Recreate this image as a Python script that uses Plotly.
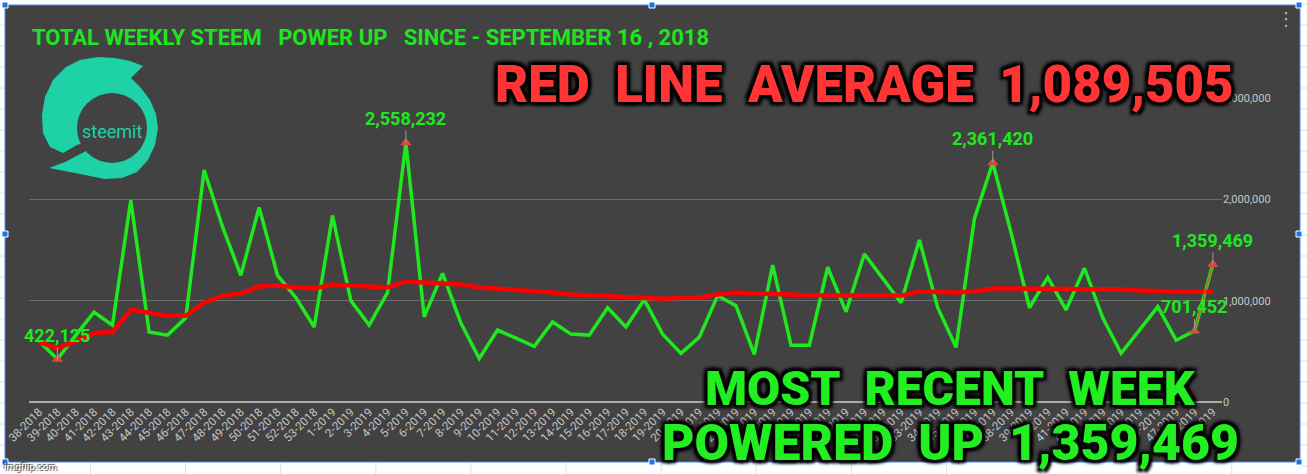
import plotly.graph_objects as go

# ---------------- data ----------------
weeks = ["38-2018", "39-2018", "40-2018", "41-2018", "42-2018", "43-2018", "44-2018", "45-2018",
         "46-2018", "47-2018", "48-2018", "49-2018", "50-2018", "51-2018", "52-2018", "53-2018",
         "1-2019", "2-2019", "3-2019", "4-2019", "5-2019", "6-2019", "7-2019", "8-2019", "9-2019",
         "10-2019", "11-2019", "12-2019", "13-2019", "14-2019", "15-2019", "16-2019", "17-2019",
         "18-2019", "19-2019", "20-2019", "21-2019", "22-2019", "23-2019", "24-2019", "25-2019",
         "26-2019", "27-2019", "28-2019", "29-2019", "30-2019", "31-2019", "32-2019", "33-2019",
         "34-2019", "35-2019", "36-2019", "37-2019", "38-2019", "39-2019", "40-2019", "41-2019",
         "42-2019", "43-2019", "44-2019", "45-2019", "46-2019", "47-2019", "48-2019", "49-2019"]

power_up = [600000, 422125, 660000, 886000, 758000, 1990000, 690000, 660000, 830000, 2290000,
            1730000, 1250000, 1920000, 1250000, 1030000, 740000, 1840000, 1000000, 760000, 1080000,
            2558232, 840000, 1270000, 780000, 430000, 710000, 630000, 550000, 790000, 670000,
            660000, 930000, 740000, 1010000, 670000, 480000, 640000, 1050000, 950000, 470000,
            1350000, 560000, 560000, 1330000, 890000, 1460000, 1220000, 980000, 1600000, 930000,
            540000, 1810000, 2361420, 1670000, 930000, 1230000, 910000, 1320000, 830000, 480000,
            710000, 940000, 610000, 701452, 1359469]

average_line = [590000, 530000, 600000, 680000, 690000, 910000, 880000, 850000, 850000, 980000,
                1050000, 1070000, 1140000, 1150000, 1130000, 1120000, 1160000, 1150000, 1130000, 1130000,
                1190000, 1180000, 1180000, 1160000, 1130000, 1120000, 1110000, 1090000, 1080000, 1060000,
                1050000, 1040000, 1030000, 1030000, 1020000, 1030000, 1030000, 1060000, 1080000, 1070000,
                1070000, 1060000, 1050000, 1050000, 1050000, 1060000, 1060000, 1050000, 1090000, 1080000,
                1080000, 1090000, 1120000, 1120000, 1120000, 1120000, 1120000, 1120000, 1110000, 1110000,
                1100000, 1090000, 1090000, 1090000, 1089505]

labeled_idx = [1, 20, 52, 63, 64]
y_ticks = [0, 1000000, 2000000, 3000000]

title_text = "TOTAL WEEKLY STEEM   POWER UP   SINCE - SEPTEMBER 16 , 2018"
avg_text = "RED  LINE  AVERAGE  1,089,505"
recent_text_1 = "MOST  RECENT  WEEK"
recent_text_2 = "POWERED  UP  1,359,469"

# ---------------- layout geometry ----------------
W, H = 1307, 474
L, R, T, B = 29, 85, 98, 72
PW, PH = W - L - R, H - T - B

def px(x):
    return (x - L) / PW

def py(y):
    return (H - B - y) / PH

def nb(s):
    return s.replace(" ", "\u00a0")

GREEN = "#1fe81f"
RED = "#ff0000"
TEAL = "#1fd1a7"
BG = "#424242"

fig = go.Figure()

fig.add_trace(go.Scatter(x=weeks, y=power_up, mode="lines",
                         line=dict(color=GREEN, width=3.5), hoverinfo="skip"))
fig.add_trace(go.Scatter(x=weeks, y=average_line, mode="lines",
                         line=dict(color=RED, width=4.5), hoverinfo="skip"))
fig.add_trace(go.Scatter(x=weeks[-2:], y=power_up[-2:], mode="lines",
                         line=dict(color="#d0562e", width=1.5), hoverinfo="skip"))
fig.add_trace(go.Scatter(x=[weeks[i] for i in labeled_idx], y=[power_up[i] for i in labeled_idx],
                         mode="markers",
                         marker=dict(symbol="triangle-up", size=10, color="#d9483b"),
                         hoverinfo="skip"))

annotations = []
for i in labeled_idx:
    annotations.append(dict(x=weeks[i], y=power_up[i], xref="x", yref="y",
                            text=f"{power_up[i]:,}", showarrow=True, arrowhead=0,
                            arrowwidth=1, arrowcolor="#9a9a9a", ax=0, ay=-24,
                            font=dict(family="Roboto", size=18, color=GREEN, weight="bold")))


def paper_text(x, y, text, font, xanchor="center"):
    annotations.append(dict(x=px(x), y=py(y), xref="paper", yref="paper", showarrow=False,
                            xanchor=xanchor, yanchor="middle", text=text, font=font))


paper_text(30, 38, nb(title_text),
           dict(family="Roboto", size=22, color="#1ee61e", weight="bold"), xanchor="left")
paper_text(112, 131, "steemit", dict(family="Roboto", size=18, color=TEAL))
paper_text(1286, 19, "\u22ee", dict(family="DejaVu Sans", size=18, color="#b8b8b8"))
paper_text(2, 467, "imgflip.com",
           dict(family="DejaVu Sans", size=9, color="#ffffff",
                shadow="1px 1px 1px #333, -1px -1px 1px #333"), xanchor="left")

shadow = ("3px 3px 3px #000, -3px -3px 3px #000, 3px -3px 3px #000, -3px 3px 3px #000, "
          "0 0 6px #000")
meme_font = "Roboto, Liberation Sans, sans-serif"
paper_text(864, 84, nb(avg_text),
           dict(family=meme_font, size=51, color="#ff3535", weight=900, shadow=shadow))
paper_text(950, 388, nb(recent_text_1),
           dict(family=meme_font, size=48, color="#22ee22", weight=900, shadow=shadow))
paper_text(950, 443, nb(recent_text_2),
           dict(family=meme_font, size=50, color="#22ee22", weight=900, shadow=shadow))

shapes = []
# dark chart background
shapes.append(dict(type="rect", xref="paper", yref="paper", layer="below",
                   x0=px(5), x1=px(1300), y0=py(462), y1=py(5),
                   fillcolor=BG, line=dict(color="#4a86e8", width=1)))
# spreadsheet cell lines outside the chart
for k in range(14):
    gx = 90.5 + 95.1 * k
    shapes.append(dict(type="line", xref="paper", yref="paper", layer="below",
                       x0=px(gx), x1=px(gx), y0=py(463), y1=py(474),
                       line=dict(color="#e0e0e0", width=1)))
for k in range(23):
    gy = 4 + 21 * k
    shapes.append(dict(type="line", xref="paper", yref="paper", layer="below",
                       x0=px(0), x1=px(4), y0=py(gy), y1=py(gy),
                       line=dict(color="#e0e0e0", width=1)))
    shapes.append(dict(type="line", xref="paper", yref="paper", layer="below",
                       x0=px(1301), x1=px(1307), y0=py(gy), y1=py(gy),
                       line=dict(color="#e0e0e0", width=1)))

# steemit logo
logo_pts = [(77, 145), (63, 153), (50, 147), (43, 133), (42, 115), (45, 97), (53, 80), (66, 67),
            (80, 60), (98, 57), (115, 58), (130, 61), (143, 66), (131, 78), (141, 88), (150, 100),
            (156, 114), (158, 128), (155, 145), (148, 160), (137, 172), (122, 178), (105, 179),
            (90, 176), (70, 172), (49, 168), (65, 162), (86, 151), (84, 143)]
path = "M " + " L ".join(f"{px(a):.5f},{py(b):.5f}" for a, b in logo_pts) + " Z"
shapes.append(dict(type="path", xref="paper", yref="paper", layer="above", path=path,
                   fillcolor=TEAL, line=dict(width=0)))
shapes.append(dict(type="circle", xref="paper", yref="paper", layer="above",
                   x0=px(77), x1=px(147), y0=py(163), y1=py(93),
                   fillcolor=BG, line=dict(width=0)))

# selection handles
for hx in (5, 652, 1299):
    for hy in (5, 234, 462):
        if hx == 652 and hy == 234:
            continue
        shapes.append(dict(type="rect", xref="paper", yref="paper", layer="above",
                           x0=px(hx - 3), x1=px(hx + 3), y0=py(hy + 3), y1=py(hy - 3),
                           fillcolor="#1a73e8", line=dict(color="#ffffff", width=1)))

fig.update_layout(
    width=W, height=H,
    margin=dict(l=L, r=R, t=T, b=B, pad=0, autoexpand=False),
    paper_bgcolor="#ffffff",
    plot_bgcolor="rgba(0,0,0,0)",
    showlegend=False,
    font=dict(family="Roboto", color="#c8c8c8"),
    xaxis=dict(type="category", range=[-0.55, 64.5], tickangle=-45, showgrid=False,
               showline=False, zeroline=False, ticks="", automargin=False,
               tickfont=dict(family="Roboto", size=11.5, color="#c6c6c6")),
    yaxis=dict(side="right", range=[0, 3000000], tickvals=y_ticks, tickformat=",",
               showgrid=True, gridcolor="#6c6c6c", gridwidth=1, automargin=False,
               zeroline=True, zerolinecolor="#ababab", zerolinewidth=2,
               showline=False, ticks="",
               tickfont=dict(family="Roboto", size=11, color="#c6c6c6")),
    annotations=annotations,
    shapes=shapes,
)

fig.write_html("out.html", config={"displayModeBar": False},
               post_script="document.body.style.margin='0px';document.body.style.overflow='hidden';")
